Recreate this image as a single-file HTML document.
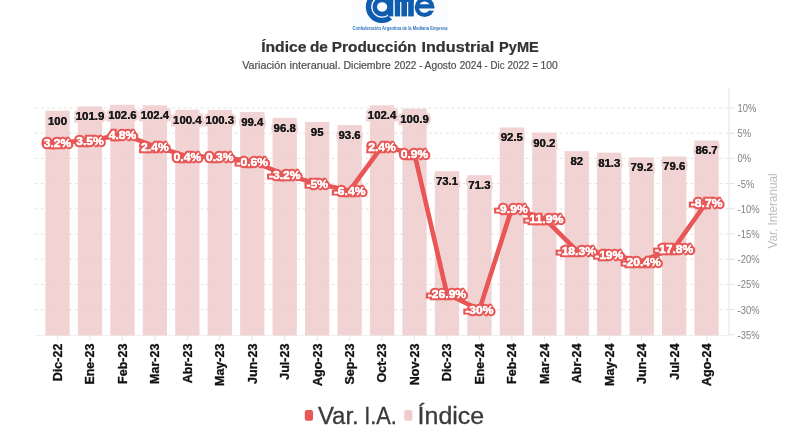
<!DOCTYPE html><html><head><meta charset="utf-8"><title>Índice de Producción Industrial PyME</title><style>
html,body{margin:0;padding:0;background:#fff;width:800px;height:445px;overflow:hidden}
svg{display:block}
text{font-family:"Liberation Sans",Arial,sans-serif}
.il{font-weight:bold;font-size:11.4px;fill:#111;stroke:#f1d3d4;stroke-width:5px;stroke-linejoin:miter;stroke-miterlimit:2;paint-order:stroke}
.vl{font-weight:bold;font-size:11.5px;fill:#fff;stroke:#e85656;stroke-width:4.6px;stroke-linejoin:miter;stroke-miterlimit:2;paint-order:stroke}
.il2{font-weight:bold;font-size:11.4px;fill:#1a1a1a;stroke:#1a1a1a;stroke-width:0.15px}
.vl2{font-weight:bold;font-size:11.5px;fill:#fff;stroke:#fff;stroke-width:0.3px}
.xl{font-weight:bold;font-size:12.5px;fill:#111;stroke:#111;stroke-width:0.3px}
.yl{font-size:11px;fill:#808080}
</style></head><body>
<svg width="800" height="445" viewBox="0 0 800 445">
<g id="logo">
<rect x="352" y="0" width="96" height="31" fill="#fbfcfe"/>
<path d="M 392.08 19.48 A 16.2 16.2 0 1 1 390.10 -7.23 L 387.50 -2.73 A 11.0 11.0 0 1 0 388.50 15.80 Z" fill="#105db0"/>
<circle cx="382.1" cy="6.9" r="9.6" fill="#105db0"/>
<rect x="388" y="-3" width="5.3" height="19.4" fill="#105db0"/>
<ellipse cx="382.1" cy="6.9" rx="5.1" ry="4.75" fill="#fbfcfe"/>
<rect x="394.8" y="-3" width="19.0" height="5" fill="#105db0"/>
<rect x="394.8" y="-3" width="5.3" height="19.4" fill="#105db0"/>
<rect x="401.4" y="-3" width="5.6" height="19.4" fill="#105db0"/>
<rect x="408.2" y="-3" width="5.6" height="19.4" fill="#105db0"/>
<circle cx="424.6" cy="7.2" r="9.9" fill="#105db0"/>
<path d="M 419.71 4.3 A 5.6 5.6 0 0 1 429.29 4.3 Z" fill="#fbfcfe"/>
<path d="M 419.05 8.5 L 436 8.5 L 436 10.0 L 433.2 10.7 L 429.02 10.5 A 5.6 5.6 0 0 1 419.05 8.5 Z" fill="#fbfcfe"/>
<text x="400" y="30.2" text-anchor="middle" font-size="4.8" font-weight="bold" fill="#105db0" fill-opacity="0.85" textLength="95" lengthAdjust="spacingAndGlyphs">Confederación Argentina de la Mediana Empresa</text>
</g>
<g fill="#333" stroke="#333" stroke-width="0.2" font-size="14.6" font-weight="bold">
<text x="261.15" y="52.1" textLength="45.35" lengthAdjust="spacingAndGlyphs">Índice</text>
<text x="310.00" y="52.1" textLength="17.90" lengthAdjust="spacingAndGlyphs">de</text>
<text x="331.80" y="52.1" textLength="84.70" lengthAdjust="spacingAndGlyphs">Producción</text>
<text x="421.50" y="52.1" textLength="72.80" lengthAdjust="spacingAndGlyphs">Industrial</text>
<text x="499.10" y="52.1" textLength="39.70" lengthAdjust="spacingAndGlyphs">PyME</text>
</g>
<g fill="#4d4d4d" stroke="#4d4d4d" stroke-width="0.18" font-size="10.2">
<text x="242.20" y="69.2" textLength="44.00" lengthAdjust="spacingAndGlyphs">Variación</text>
<text x="289.50" y="69.2" textLength="51.00" lengthAdjust="spacingAndGlyphs">interanual.</text>
<text x="343.50" y="69.2" textLength="47.30" lengthAdjust="spacingAndGlyphs">Diciembre</text>
<text x="394.20" y="69.2" textLength="22.20" lengthAdjust="spacingAndGlyphs">2022</text>
<text x="419.35" y="69.2" textLength="3.05" lengthAdjust="spacingAndGlyphs">-</text>
<text x="424.60" y="69.2" textLength="31.90" lengthAdjust="spacingAndGlyphs">Agosto</text>
<text x="459.70" y="69.2" textLength="22.30" lengthAdjust="spacingAndGlyphs">2024</text>
<text x="484.50" y="69.2" textLength="3.00" lengthAdjust="spacingAndGlyphs">-</text>
<text x="490.60" y="69.2" textLength="13.90" lengthAdjust="spacingAndGlyphs">Dic</text>
<text x="507.50" y="69.2" textLength="21.80" lengthAdjust="spacingAndGlyphs">2022</text>
<text x="532.60" y="69.2" textLength="5.30" lengthAdjust="spacingAndGlyphs">=</text>
<text x="540.50" y="69.2" textLength="17.30" lengthAdjust="spacingAndGlyphs">100</text>
</g>
<line x1="35.2" y1="108.00" x2="729.0" y2="108.00" stroke="#e4e4e4" stroke-width="1" stroke-dasharray="3 2.7"/>
<line x1="35.2" y1="133.20" x2="729.0" y2="133.20" stroke="#e4e4e4" stroke-width="1" stroke-dasharray="3 2.7"/>
<line x1="35.2" y1="158.40" x2="729.0" y2="158.40" stroke="#e4e4e4" stroke-width="1" stroke-dasharray="3 2.7"/>
<line x1="35.2" y1="183.60" x2="729.0" y2="183.60" stroke="#e4e4e4" stroke-width="1" stroke-dasharray="3 2.7"/>
<line x1="35.2" y1="208.80" x2="729.0" y2="208.80" stroke="#e4e4e4" stroke-width="1" stroke-dasharray="3 2.7"/>
<line x1="35.2" y1="234.00" x2="729.0" y2="234.00" stroke="#e4e4e4" stroke-width="1" stroke-dasharray="3 2.7"/>
<line x1="35.2" y1="259.20" x2="729.0" y2="259.20" stroke="#e4e4e4" stroke-width="1" stroke-dasharray="3 2.7"/>
<line x1="35.2" y1="284.40" x2="729.0" y2="284.40" stroke="#e4e4e4" stroke-width="1" stroke-dasharray="3 2.7"/>
<line x1="35.2" y1="309.60" x2="729.0" y2="309.60" stroke="#e4e4e4" stroke-width="1" stroke-dasharray="3 2.7"/>
<line x1="35.2" y1="335.40" x2="729.0" y2="335.40" stroke="#efefef" stroke-width="1"/>
<rect x="45.40" y="110.65" width="24.3" height="224.75" fill="#efcccd" fill-opacity="0.87"/>
<rect x="77.85" y="106.38" width="24.3" height="229.02" fill="#efcccd" fill-opacity="0.87"/>
<rect x="110.30" y="104.81" width="24.3" height="230.59" fill="#efcccd" fill-opacity="0.87"/>
<rect x="142.76" y="105.26" width="24.3" height="230.14" fill="#efcccd" fill-opacity="0.87"/>
<rect x="175.21" y="109.75" width="24.3" height="225.65" fill="#efcccd" fill-opacity="0.87"/>
<rect x="207.66" y="109.98" width="24.3" height="225.42" fill="#efcccd" fill-opacity="0.87"/>
<rect x="240.11" y="112.00" width="24.3" height="223.40" fill="#efcccd" fill-opacity="0.87"/>
<rect x="272.56" y="117.84" width="24.3" height="217.56" fill="#efcccd" fill-opacity="0.87"/>
<rect x="305.02" y="121.89" width="24.3" height="213.51" fill="#efcccd" fill-opacity="0.87"/>
<rect x="337.47" y="125.03" width="24.3" height="210.37" fill="#efcccd" fill-opacity="0.87"/>
<rect x="369.92" y="105.26" width="24.3" height="230.14" fill="#efcccd" fill-opacity="0.87"/>
<rect x="402.37" y="108.63" width="24.3" height="226.77" fill="#efcccd" fill-opacity="0.87"/>
<rect x="434.82" y="171.11" width="24.3" height="164.29" fill="#efcccd" fill-opacity="0.87"/>
<rect x="467.28" y="175.15" width="24.3" height="160.25" fill="#efcccd" fill-opacity="0.87"/>
<rect x="499.73" y="127.51" width="24.3" height="207.89" fill="#efcccd" fill-opacity="0.87"/>
<rect x="532.18" y="132.68" width="24.3" height="202.72" fill="#efcccd" fill-opacity="0.87"/>
<rect x="564.63" y="151.10" width="24.3" height="184.30" fill="#efcccd" fill-opacity="0.87"/>
<rect x="597.08" y="152.68" width="24.3" height="182.72" fill="#efcccd" fill-opacity="0.87"/>
<rect x="629.54" y="157.40" width="24.3" height="178.00" fill="#efcccd" fill-opacity="0.87"/>
<rect x="661.99" y="156.50" width="24.3" height="178.90" fill="#efcccd" fill-opacity="0.87"/>
<rect x="694.44" y="140.54" width="24.3" height="194.86" fill="#efcccd" fill-opacity="0.87"/>
<line x1="57.55" y1="335.40" x2="57.55" y2="340.70" stroke="#e6e6e6" stroke-width="1"/>
<text class="xl" transform="translate(61.95,343.6) rotate(-90)" text-anchor="end">Dic-22</text>
<line x1="90.00" y1="335.40" x2="90.00" y2="340.70" stroke="#e6e6e6" stroke-width="1"/>
<text class="xl" transform="translate(94.40,343.6) rotate(-90)" text-anchor="end">Ene-23</text>
<line x1="122.45" y1="335.40" x2="122.45" y2="340.70" stroke="#e6e6e6" stroke-width="1"/>
<text class="xl" transform="translate(126.85,343.6) rotate(-90)" text-anchor="end">Feb-23</text>
<line x1="154.91" y1="335.40" x2="154.91" y2="340.70" stroke="#e6e6e6" stroke-width="1"/>
<text class="xl" transform="translate(159.31,343.6) rotate(-90)" text-anchor="end">Mar-23</text>
<line x1="187.36" y1="335.40" x2="187.36" y2="340.70" stroke="#e6e6e6" stroke-width="1"/>
<text class="xl" transform="translate(191.76,343.6) rotate(-90)" text-anchor="end">Abr-23</text>
<line x1="219.81" y1="335.40" x2="219.81" y2="340.70" stroke="#e6e6e6" stroke-width="1"/>
<text class="xl" transform="translate(224.21,343.6) rotate(-90)" text-anchor="end">May-23</text>
<line x1="252.26" y1="335.40" x2="252.26" y2="340.70" stroke="#e6e6e6" stroke-width="1"/>
<text class="xl" transform="translate(256.66,343.6) rotate(-90)" text-anchor="end">Jun-23</text>
<line x1="284.71" y1="335.40" x2="284.71" y2="340.70" stroke="#e6e6e6" stroke-width="1"/>
<text class="xl" transform="translate(289.11,343.6) rotate(-90)" text-anchor="end">Jul-23</text>
<line x1="317.17" y1="335.40" x2="317.17" y2="340.70" stroke="#e6e6e6" stroke-width="1"/>
<text class="xl" transform="translate(321.57,343.6) rotate(-90)" text-anchor="end">Ago-23</text>
<line x1="349.62" y1="335.40" x2="349.62" y2="340.70" stroke="#e6e6e6" stroke-width="1"/>
<text class="xl" transform="translate(354.02,343.6) rotate(-90)" text-anchor="end">Sep-23</text>
<line x1="382.07" y1="335.40" x2="382.07" y2="340.70" stroke="#e6e6e6" stroke-width="1"/>
<text class="xl" transform="translate(386.47,343.6) rotate(-90)" text-anchor="end">Oct-23</text>
<line x1="414.52" y1="335.40" x2="414.52" y2="340.70" stroke="#e6e6e6" stroke-width="1"/>
<text class="xl" transform="translate(418.92,343.6) rotate(-90)" text-anchor="end">Nov-23</text>
<line x1="446.97" y1="335.40" x2="446.97" y2="340.70" stroke="#e6e6e6" stroke-width="1"/>
<text class="xl" transform="translate(451.37,343.6) rotate(-90)" text-anchor="end">Dic-23</text>
<line x1="479.43" y1="335.40" x2="479.43" y2="340.70" stroke="#e6e6e6" stroke-width="1"/>
<text class="xl" transform="translate(483.83,343.6) rotate(-90)" text-anchor="end">Ene-24</text>
<line x1="511.88" y1="335.40" x2="511.88" y2="340.70" stroke="#e6e6e6" stroke-width="1"/>
<text class="xl" transform="translate(516.28,343.6) rotate(-90)" text-anchor="end">Feb-24</text>
<line x1="544.33" y1="335.40" x2="544.33" y2="340.70" stroke="#e6e6e6" stroke-width="1"/>
<text class="xl" transform="translate(548.73,343.6) rotate(-90)" text-anchor="end">Mar-24</text>
<line x1="576.78" y1="335.40" x2="576.78" y2="340.70" stroke="#e6e6e6" stroke-width="1"/>
<text class="xl" transform="translate(581.18,343.6) rotate(-90)" text-anchor="end">Abr-24</text>
<line x1="609.23" y1="335.40" x2="609.23" y2="340.70" stroke="#e6e6e6" stroke-width="1"/>
<text class="xl" transform="translate(613.63,343.6) rotate(-90)" text-anchor="end">May-24</text>
<line x1="641.69" y1="335.40" x2="641.69" y2="340.70" stroke="#e6e6e6" stroke-width="1"/>
<text class="xl" transform="translate(646.09,343.6) rotate(-90)" text-anchor="end">Jun-24</text>
<line x1="674.14" y1="335.40" x2="674.14" y2="340.70" stroke="#e6e6e6" stroke-width="1"/>
<text class="xl" transform="translate(678.54,343.6) rotate(-90)" text-anchor="end">Jul-24</text>
<line x1="706.59" y1="335.40" x2="706.59" y2="340.70" stroke="#e6e6e6" stroke-width="1"/>
<text class="xl" transform="translate(710.99,343.6) rotate(-90)" text-anchor="end">Ago-24</text>
<line x1="729.0" y1="87.2" x2="729.0" y2="335.40" stroke="#e6e6e6" stroke-width="1.1"/>
<line x1="729.0" y1="108.00" x2="735.0" y2="108.00" stroke="#e3e3e3" stroke-width="1"/>
<text class="yl" x="737.6" y="111.90" textLength="18.82" lengthAdjust="spacingAndGlyphs">10%</text>
<line x1="729.0" y1="133.20" x2="735.0" y2="133.20" stroke="#e3e3e3" stroke-width="1"/>
<text class="yl" x="737.6" y="137.10" textLength="13.59" lengthAdjust="spacingAndGlyphs">5%</text>
<line x1="729.0" y1="158.40" x2="735.0" y2="158.40" stroke="#e3e3e3" stroke-width="1"/>
<text class="yl" x="737.6" y="162.30" textLength="13.59" lengthAdjust="spacingAndGlyphs">0%</text>
<line x1="729.0" y1="183.60" x2="735.0" y2="183.60" stroke="#e3e3e3" stroke-width="1"/>
<text class="yl" x="737.6" y="187.50" textLength="16.72" lengthAdjust="spacingAndGlyphs">-5%</text>
<line x1="729.0" y1="208.80" x2="735.0" y2="208.80" stroke="#e3e3e3" stroke-width="1"/>
<text class="yl" x="737.6" y="212.70" textLength="21.95" lengthAdjust="spacingAndGlyphs">-10%</text>
<line x1="729.0" y1="234.00" x2="735.0" y2="234.00" stroke="#e3e3e3" stroke-width="1"/>
<text class="yl" x="737.6" y="237.90" textLength="21.95" lengthAdjust="spacingAndGlyphs">-15%</text>
<line x1="729.0" y1="259.20" x2="735.0" y2="259.20" stroke="#e3e3e3" stroke-width="1"/>
<text class="yl" x="737.6" y="263.10" textLength="21.95" lengthAdjust="spacingAndGlyphs">-20%</text>
<line x1="729.0" y1="284.40" x2="735.0" y2="284.40" stroke="#e3e3e3" stroke-width="1"/>
<text class="yl" x="737.6" y="288.30" textLength="21.95" lengthAdjust="spacingAndGlyphs">-25%</text>
<line x1="729.0" y1="309.60" x2="735.0" y2="309.60" stroke="#e3e3e3" stroke-width="1"/>
<text class="yl" x="737.6" y="313.50" textLength="21.95" lengthAdjust="spacingAndGlyphs">-30%</text>
<line x1="729.0" y1="334.80" x2="735.0" y2="334.80" stroke="#e3e3e3" stroke-width="1"/>
<text class="yl" x="737.6" y="338.70" textLength="21.95" lengthAdjust="spacingAndGlyphs">-35%</text>
<text transform="translate(776.6,211) rotate(-90)" text-anchor="middle" font-size="12" fill="#bdbdbd" textLength="75" lengthAdjust="spacingAndGlyphs">Var. Interanual</text>
<text class="il" x="57.55" y="124.55" text-anchor="middle">100</text>
<text class="il2" x="57.55" y="124.55" text-anchor="middle">100</text>
<text class="il" x="90.00" y="120.28" text-anchor="middle">101.9</text>
<text class="il2" x="90.00" y="120.28" text-anchor="middle">101.9</text>
<text class="il" x="122.45" y="118.71" text-anchor="middle">102.6</text>
<text class="il2" x="122.45" y="118.71" text-anchor="middle">102.6</text>
<text class="il" x="154.91" y="119.16" text-anchor="middle">102.4</text>
<text class="il2" x="154.91" y="119.16" text-anchor="middle">102.4</text>
<text class="il" x="187.36" y="123.65" text-anchor="middle">100.4</text>
<text class="il2" x="187.36" y="123.65" text-anchor="middle">100.4</text>
<text class="il" x="219.81" y="123.88" text-anchor="middle">100.3</text>
<text class="il2" x="219.81" y="123.88" text-anchor="middle">100.3</text>
<text class="il" x="252.26" y="125.90" text-anchor="middle">99.4</text>
<text class="il2" x="252.26" y="125.90" text-anchor="middle">99.4</text>
<text class="il" x="284.71" y="131.74" text-anchor="middle">96.8</text>
<text class="il2" x="284.71" y="131.74" text-anchor="middle">96.8</text>
<text class="il" x="317.17" y="135.79" text-anchor="middle">95</text>
<text class="il2" x="317.17" y="135.79" text-anchor="middle">95</text>
<text class="il" x="349.62" y="138.93" text-anchor="middle">93.6</text>
<text class="il2" x="349.62" y="138.93" text-anchor="middle">93.6</text>
<text class="il" x="382.07" y="119.16" text-anchor="middle">102.4</text>
<text class="il2" x="382.07" y="119.16" text-anchor="middle">102.4</text>
<text class="il" x="414.52" y="122.53" text-anchor="middle">100.9</text>
<text class="il2" x="414.52" y="122.53" text-anchor="middle">100.9</text>
<text class="il" x="446.97" y="185.01" text-anchor="middle">73.1</text>
<text class="il2" x="446.97" y="185.01" text-anchor="middle">73.1</text>
<text class="il" x="479.43" y="189.05" text-anchor="middle">71.3</text>
<text class="il2" x="479.43" y="189.05" text-anchor="middle">71.3</text>
<text class="il" x="511.88" y="141.41" text-anchor="middle">92.5</text>
<text class="il2" x="511.88" y="141.41" text-anchor="middle">92.5</text>
<text class="il" x="544.33" y="146.58" text-anchor="middle">90.2</text>
<text class="il2" x="544.33" y="146.58" text-anchor="middle">90.2</text>
<text class="il" x="576.78" y="165.00" text-anchor="middle">82</text>
<text class="il2" x="576.78" y="165.00" text-anchor="middle">82</text>
<text class="il" x="609.23" y="166.58" text-anchor="middle">81.3</text>
<text class="il2" x="609.23" y="166.58" text-anchor="middle">81.3</text>
<text class="il" x="641.69" y="171.30" text-anchor="middle">79.2</text>
<text class="il2" x="641.69" y="171.30" text-anchor="middle">79.2</text>
<text class="il" x="674.14" y="170.40" text-anchor="middle">79.6</text>
<text class="il2" x="674.14" y="170.40" text-anchor="middle">79.6</text>
<text class="il" x="706.59" y="154.44" text-anchor="middle">86.7</text>
<text class="il2" x="706.59" y="154.44" text-anchor="middle">86.7</text>
<polyline points="57.55,142.27 90.00,140.76 122.45,134.21 154.91,146.30 187.36,156.38 219.81,156.89 252.26,161.42 284.71,174.53 317.17,183.60 349.62,190.66 382.07,146.30 414.52,153.86 446.97,293.98 479.43,309.60 511.88,208.30 544.33,218.38 576.78,250.63 609.23,254.16 641.69,261.22 674.14,248.11 706.59,202.25" fill="none" stroke="#e85656" stroke-width="4.6" stroke-linejoin="round" stroke-linecap="round"/>
<text class="vl" x="57.55" y="146.67" text-anchor="middle" textLength="27.58" lengthAdjust="spacingAndGlyphs">3.2%</text>
<text class="vl2" x="57.55" y="146.67" text-anchor="middle" textLength="27.58" lengthAdjust="spacingAndGlyphs">3.2%</text>
<text class="vl" x="90.00" y="145.16" text-anchor="middle" textLength="27.58" lengthAdjust="spacingAndGlyphs">3.5%</text>
<text class="vl2" x="90.00" y="145.16" text-anchor="middle" textLength="27.58" lengthAdjust="spacingAndGlyphs">3.5%</text>
<text class="vl" x="122.45" y="138.61" text-anchor="middle" textLength="27.58" lengthAdjust="spacingAndGlyphs">4.8%</text>
<text class="vl2" x="122.45" y="138.61" text-anchor="middle" textLength="27.58" lengthAdjust="spacingAndGlyphs">4.8%</text>
<text class="vl" x="154.91" y="150.70" text-anchor="middle" textLength="27.58" lengthAdjust="spacingAndGlyphs">2.4%</text>
<text class="vl2" x="154.91" y="150.70" text-anchor="middle" textLength="27.58" lengthAdjust="spacingAndGlyphs">2.4%</text>
<text class="vl" x="187.36" y="160.78" text-anchor="middle" textLength="27.58" lengthAdjust="spacingAndGlyphs">0.4%</text>
<text class="vl2" x="187.36" y="160.78" text-anchor="middle" textLength="27.58" lengthAdjust="spacingAndGlyphs">0.4%</text>
<text class="vl" x="219.81" y="161.29" text-anchor="middle" textLength="27.58" lengthAdjust="spacingAndGlyphs">0.3%</text>
<text class="vl2" x="219.81" y="161.29" text-anchor="middle" textLength="27.58" lengthAdjust="spacingAndGlyphs">0.3%</text>
<text class="vl" x="252.26" y="165.82" text-anchor="middle" textLength="31.61" lengthAdjust="spacingAndGlyphs">-0.6%</text>
<text class="vl2" x="252.26" y="165.82" text-anchor="middle" textLength="31.61" lengthAdjust="spacingAndGlyphs">-0.6%</text>
<text class="vl" x="284.71" y="178.93" text-anchor="middle" textLength="31.61" lengthAdjust="spacingAndGlyphs">-3.2%</text>
<text class="vl2" x="284.71" y="178.93" text-anchor="middle" textLength="31.61" lengthAdjust="spacingAndGlyphs">-3.2%</text>
<text class="vl" x="317.17" y="188.00" text-anchor="middle" textLength="21.51" lengthAdjust="spacingAndGlyphs">-5%</text>
<text class="vl2" x="317.17" y="188.00" text-anchor="middle" textLength="21.51" lengthAdjust="spacingAndGlyphs">-5%</text>
<text class="vl" x="349.62" y="195.06" text-anchor="middle" textLength="31.61" lengthAdjust="spacingAndGlyphs">-6.4%</text>
<text class="vl2" x="349.62" y="195.06" text-anchor="middle" textLength="31.61" lengthAdjust="spacingAndGlyphs">-6.4%</text>
<text class="vl" x="382.07" y="150.70" text-anchor="middle" textLength="27.58" lengthAdjust="spacingAndGlyphs">2.4%</text>
<text class="vl2" x="382.07" y="150.70" text-anchor="middle" textLength="27.58" lengthAdjust="spacingAndGlyphs">2.4%</text>
<text class="vl" x="414.52" y="158.26" text-anchor="middle" textLength="27.58" lengthAdjust="spacingAndGlyphs">0.9%</text>
<text class="vl2" x="414.52" y="158.26" text-anchor="middle" textLength="27.58" lengthAdjust="spacingAndGlyphs">0.9%</text>
<text class="vl" x="446.97" y="298.38" text-anchor="middle" textLength="38.33" lengthAdjust="spacingAndGlyphs">-26.9%</text>
<text class="vl2" x="446.97" y="298.38" text-anchor="middle" textLength="38.33" lengthAdjust="spacingAndGlyphs">-26.9%</text>
<text class="vl" x="479.43" y="314.00" text-anchor="middle" textLength="28.24" lengthAdjust="spacingAndGlyphs">-30%</text>
<text class="vl2" x="479.43" y="314.00" text-anchor="middle" textLength="28.24" lengthAdjust="spacingAndGlyphs">-30%</text>
<text class="vl" x="511.88" y="212.70" text-anchor="middle" textLength="31.61" lengthAdjust="spacingAndGlyphs">-9.9%</text>
<text class="vl2" x="511.88" y="212.70" text-anchor="middle" textLength="31.61" lengthAdjust="spacingAndGlyphs">-9.9%</text>
<text class="vl" x="544.33" y="222.78" text-anchor="middle" textLength="38.33" lengthAdjust="spacingAndGlyphs">-11.9%</text>
<text class="vl2" x="544.33" y="222.78" text-anchor="middle" textLength="38.33" lengthAdjust="spacingAndGlyphs">-11.9%</text>
<text class="vl" x="576.78" y="255.03" text-anchor="middle" textLength="38.33" lengthAdjust="spacingAndGlyphs">-18.3%</text>
<text class="vl2" x="576.78" y="255.03" text-anchor="middle" textLength="38.33" lengthAdjust="spacingAndGlyphs">-18.3%</text>
<text class="vl" x="609.23" y="258.56" text-anchor="middle" textLength="28.24" lengthAdjust="spacingAndGlyphs">-19%</text>
<text class="vl2" x="609.23" y="258.56" text-anchor="middle" textLength="28.24" lengthAdjust="spacingAndGlyphs">-19%</text>
<text class="vl" x="641.69" y="265.62" text-anchor="middle" textLength="38.33" lengthAdjust="spacingAndGlyphs">-20.4%</text>
<text class="vl2" x="641.69" y="265.62" text-anchor="middle" textLength="38.33" lengthAdjust="spacingAndGlyphs">-20.4%</text>
<text class="vl" x="674.14" y="252.51" text-anchor="middle" textLength="38.33" lengthAdjust="spacingAndGlyphs">-17.8%</text>
<text class="vl2" x="674.14" y="252.51" text-anchor="middle" textLength="38.33" lengthAdjust="spacingAndGlyphs">-17.8%</text>
<text class="vl" x="706.59" y="206.65" text-anchor="middle" textLength="31.61" lengthAdjust="spacingAndGlyphs">-8.7%</text>
<text class="vl2" x="706.59" y="206.65" text-anchor="middle" textLength="31.61" lengthAdjust="spacingAndGlyphs">-8.7%</text>
<rect x="304.8" y="410" width="8.2" height="10.8" rx="2" fill="#e85656"/>
<text x="317.9" y="424.2" font-size="23.5" fill="#3a3a3a" stroke="#3a3a3a" stroke-width="0.3" textLength="40.9" lengthAdjust="spacingAndGlyphs">Var.</text>
<text x="364.2" y="424.2" font-size="23.5" fill="#3a3a3a" stroke="#3a3a3a" stroke-width="0.3" textLength="32.7" lengthAdjust="spacingAndGlyphs">I.A.</text>
<rect x="404.2" y="410" width="8.2" height="10.8" rx="2" fill="#efcccd"/>
<text x="417.6" y="424.2" font-size="23.5" fill="#3a3a3a" stroke="#3a3a3a" stroke-width="0.3" textLength="66.6" lengthAdjust="spacingAndGlyphs">Índice</text>
</svg></body></html>
